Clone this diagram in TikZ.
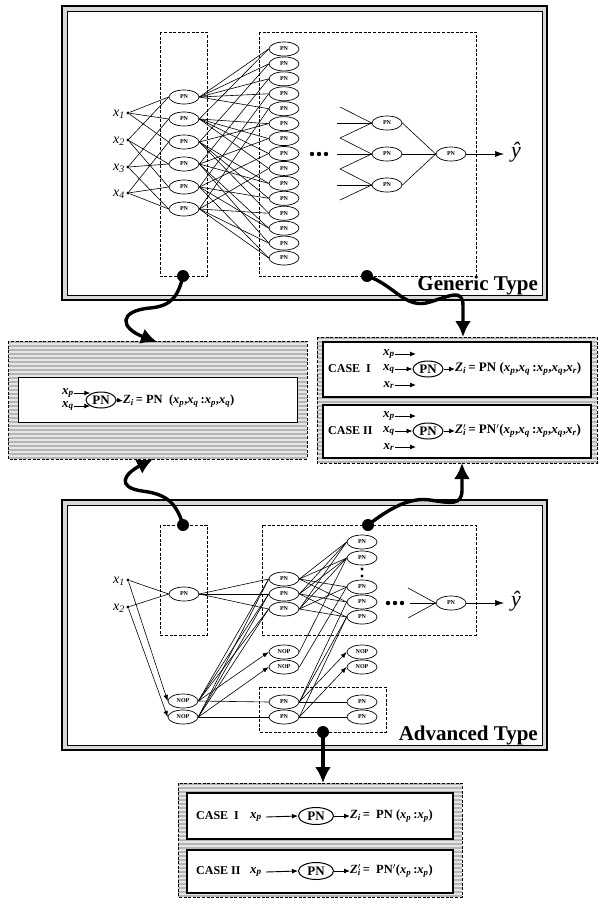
\documentclass[tikz,border=0pt]{standalone}
\usepackage{fontspec}
\setmainfont{Liberation Serif}
\usetikzlibrary{arrows.meta,shapes.geometric}

\newcommand\ix[1]{\textit{x}\textsubscript{\textit{#1}}}
\newcommand\bxs[1]{\textbf{\textit{x}}\textsubscript{\textbf{\textit{#1}}}}
\newcommand\mystripes[4]{%
  \fill[gray!20] (#1,#2) rectangle (#3,#4);
  \begin{scope}
    \clip (#1,#2) rectangle (#3,#4);
    \foreach \k in {0,...,40} \draw[gray!58, line width=1.8pt] (#1,{#2+1+4*\k}) -- (#3,{#2+1+4*\k});
  \end{scope}}

\tikzset{
  pn/.style={draw, ellipse, line width=0.7pt, minimum width=30pt, minimum height=14pt,
    inner sep=0pt, fill=white, font=\fontsize{6}{6}\selectfont\bfseries},
  pnbig/.style={draw, ellipse, line width=1pt, minimum width=30pt, minimum height=16pt,
    inner sep=0pt, fill=white, font=\fontsize{13}{13}\selectfont\bfseries},
  dot/.style={circle, fill=black, inner sep=0pt, minimum size=3.2pt},
  conn/.style={line width=0.6pt},
  sarrow/.style={line width=0.6pt, -{Latex[length=6pt,width=4.5pt]}},
  marrow/.style={line width=0.9pt, -{Latex[length=6pt,width=5pt]}},
  dbox/.style={draw, dash pattern=on 3pt off 1.6pt, line width=0.9pt},
  wave/.style={line width=3.4pt, -{Latex[length=16pt,width=16pt]}},
  bigdot/.style={circle, fill=black, inner sep=0pt, minimum size=12pt},
  xlab/.style={inner sep=0pt, font=\fontsize{14}{14}\selectfont},
  yhat/.style={inner sep=0pt, font=\fontsize{22}{22}\selectfont},
  typelabel/.style={inner sep=0pt, anchor=base east, font=\fontsize{21}{21}\selectfont\bfseries},
  form/.style={inner sep=0pt, anchor=west, font=\fontsize{12.5}{12.5}\selectfont\bfseries},
  formr/.style={inner sep=0pt, anchor=west, font=\fontsize{13}{13}\selectfont\bfseries},
  caselab/.style={inner sep=0pt, anchor=west, font=\fontsize{12}{12}\selectfont\bfseries},
  bvar/.style={inner sep=0pt, font=\fontsize{13}{13}\selectfont\bfseries},
  gdots/.style={circle, fill=black, inner sep=0pt, minimum size=4.4pt},
}

\begin{document}
\begin{tikzpicture}[x=1pt, y=-1pt]
\useasboundingbox (0,0) rectangle (602,903);
\fill[white] (0,0) rectangle (602,903);

% ===== frames =====
\draw[line width=1.2pt, fill=gray!30] (62,6) rectangle (547,300);
\draw[line width=1pt, fill=white] (67,11) rectangle (542,295);
\draw[line width=1.2pt, fill=gray!30] (62,500) rectangle (547,750);
\draw[line width=1pt, fill=white] (67,505) rectangle (542,745);

% ===== Generic type =====
\draw[dbox] (160,32) rectangle (207,276);
\draw[dbox] (259,32) rectangle (476,276);

\foreach \i/\y in {1/113,2/140,3/167,4/193} {
  \node[dot] (gx\i) at (128,\y) {};
  \node[xlab, anchor=east] (gxl\i) at (125,\y+1) {\ix{\i}};
}
\foreach \i/\y in {1/97,2/119,3/142,4/164,5/187,6/209}
  \node[pn] (ga\i) at (184,\y) {PN};
\foreach \i in {1,...,15}
  \node[pn] (gb\i) at (284,{49+(\i-1)*14.93}) {PN};

\foreach \a/\b/\n in {1/2/1,1/3/2,1/4/3,2/3/4,2/4/5,3/4/6} {
  \draw[conn] (gx\a) -- (ga\n.west);
  \draw[conn] (gx\b) -- (ga\n.west);
}
\foreach \a/\b/\n in {1/2/1,1/3/2,1/4/3,1/5/4,1/6/5,2/3/6,2/4/7,2/5/8,2/6/9,3/4/10,3/5/11,3/6/12,4/5/13,4/6/14,5/6/15} {
  \draw[conn] (ga\a.east) -- (gb\n.west);
  \draw[conn] (ga\b.east) -- (gb\n.west);
}

\node[gdots] (gd1) at (312,154) {};
\node[gdots] (gd2) at (319,154) {};
\node[gdots] (gd3) at (326,154) {};

\foreach \i/\y in {1/123,2/154,3/185}
  \node[pn] (gc\i) at (387,\y) {PN};
\node[pn] (gf) at (451,154) {PN};
\coordinate (gi1) at (340,107);
\coordinate (gi2) at (337,123);
\coordinate (gi3) at (340,138);
\coordinate (gi4) at (337,154);
\coordinate (gi5) at (340,169);
\coordinate (gi6) at (337,185);
\coordinate (gi7) at (340,200);
\foreach \p in {1,2,3} \draw[conn] (gi\p) -- (gc1.west);
\foreach \p in {3,4,5} \draw[conn] (gi\p) -- (gc2.west);
\foreach \p in {5,6,7} \draw[conn] (gi\p) -- (gc3.west);
\foreach \i in {1,2,3} \draw[conn] (gc\i.east) -- (gf.west);
\coordinate (gyend) at (504,154);
\draw[conn, -{Latex[length=9pt,width=6pt]}] (gf.east) -- (gyend);
\node[yhat] (gy) at (516,152) {\textit{\^{y}}};

\node[typelabel] (gtype) at (538,290) {Generic Type};

% ===== Advanced type =====
\draw[dbox] (160,525) rectangle (207,635);
\draw[dbox] (262,525) rectangle (476,635);
\draw[dbox] (259,687) rectangle (386,732);

\node[dot] (ax1) at (128,580) {};
\node[dot] (ax2) at (128,607) {};
\node[xlab, anchor=east] (axl1) at (125,581) {\ix{1}};
\node[xlab, anchor=east] (axl2) at (125,608) {\ix{2}};

\node[pn] (aa) at (184,594) {PN};
\node[pn] (ab1) at (284,579) {PN};
\node[pn] (ab2) at (284,594) {PN};
\node[pn] (ab3) at (284,609) {PN};
\node[pn] (anl1) at (183,701) {NOP};
\node[pn] (anl2) at (183,717) {NOP};
\node[pn] (ana1) at (284,652) {NOP};
\node[pn] (ana2) at (284,667) {NOP};
\node[pn] (apa1) at (284,702) {PN};
\node[pn] (apa2) at (284,717) {PN};
\foreach \i/\y in {1/542,2/558,3/587,4/602,5/617}
  \node[pn] (ac\i) at (362,\y) {PN};
\node[circle, fill=black, inner sep=0pt, minimum size=3.2pt] (avd1) at (362,569) {};
\node[circle, fill=black, inner sep=0pt, minimum size=3.2pt] (avd2) at (362,576) {};
\node[pn] (anb1) at (362,652) {NOP};
\node[pn] (anb2) at (362,667) {NOP};
\node[pn] (apb1) at (362,702) {PN};
\node[pn] (apb2) at (362,717) {PN};
\node[pn] (af) at (451,603) {PN};

\draw[conn] (ax1) -- (aa.west);
\draw[conn] (ax2) -- (aa.west);
\draw[sarrow] (ax1) -- (anl1.west);
\draw[sarrow] (ax2) -- (anl2.west);
\foreach \j in {1,2,3} {
  \draw[conn] (aa.east) -- (ab\j.west);
  \draw[conn] (anl1.east) -- (ab\j.west);
  \draw[conn] (anl2.east) -- (ab\j.west);
}
\draw[sarrow] (anl1.east) -- (ana1.west);
\draw[sarrow] (anl2.east) -- (ana2.west);
\draw[conn] (anl1.east) -- (apa1.west);
\draw[conn] (anl2.east) -- (apa2.west);

\foreach \j in {1,2,3,4} \draw[conn] (ab1.east) -- (ac\j.west);
\foreach \j in {1,2,4,5} \draw[conn] (ab2.east) -- (ac\j.west);
\foreach \j in {1,2,3,5} \draw[conn] (ab3.east) -- (ac\j.west);
\draw[conn] (ana1.east) -- (ac2.west);
\draw[conn] (ana2.east) -- (ac3.west);
\draw[conn] (apa1.east) -- (ac4.west);
\draw[conn] (apa1.east) -- (ac5.west);
\draw[conn] (apa2.east) -- (ac5.west);
\draw[sarrow] (apa1.east) -- (anb1.west);
\draw[sarrow] (apa2.east) -- (anb2.west);
\draw[conn] (apa1.east) -- (apb1.west);
\draw[conn] (apa2.east) -- (apb2.west);

\node[gdots] (ad1) at (388,603) {};
\node[gdots] (ad2) at (395,603) {};
\node[gdots] (ad3) at (402,603) {};
\coordinate (ai1) at (408,588);
\coordinate (ai2) at (410,603);
\coordinate (ai3) at (408,618);
\foreach \p in {1,2,3} \draw[conn] (ai\p) -- (af.west);
\coordinate (ayend) at (504,603);
\draw[conn, -{Latex[length=9pt,width=6pt]}] (af.east) -- (ayend);
\node[yhat] (ay) at (516,601) {\textit{\^{y}}};

\node[typelabel] (atype) at (538,740) {Advanced Type};

% ===== middle left box =====
\mystripes{8}{341}{307}{459}
\draw[dbox] (8,341) rectangle (307,459);
\draw[line width=1pt, fill=white] (18,377) rectangle (297,422);
\node[bvar] (mxp) at (68,393) {\bxs{p}};
\node[bvar] (mxq) at (68,406) {\bxs{q}};
\node[pnbig] (mpn) at (101,400) {PN};
\node[form] (mz) at (123,401) {\textit{Z}\textsubscript{\textit{i}}\,= PN\ \ (\bxs{p},\bxs{q}\,:\bxs{p},\bxs{q})};
\draw[marrow] (mxp.east) -- (mxp.east -| mpn.150);
\draw[marrow] (mxq.east) -- (mxq.east -| mpn.210);
\draw[marrow] (mpn.east) -- (mz.west);

% ===== middle right box =====
\mystripes{317}{337}{597}{463}
\draw[dbox] (317,337) rectangle (597,463);
\draw[line width=1.3pt, fill=white] (323,342) rectangle (591,397);
\draw[line width=1.3pt, fill=white] (323,405) rectangle (591,458);

\node[caselab] (rc1) at (328,369) {CASE\ \ I};
\node[bvar] (r1p) at (389,354) {\bxs{p}};
\node[bvar] (r1q) at (389,369) {\bxs{q}};
\node[bvar] (r1r) at (389,385) {\bxs{r}};
\node[pnbig] (r1pn) at (428,369) {PN};
\coordinate (r1pe) at (416,354);
\coordinate (r1re) at (416,385);
\draw[marrow] (r1p.east) -- (r1pe);
\draw[marrow] (r1r.east) -- (r1re);
\draw[marrow] (r1q.east) -- (r1pn.west);
\node[formr] (r1z) at (455,369) {\textit{Z}\textsubscript{\textit{i}}\,= PN (\bxs{p},\bxs{q}\,:\bxs{p},\bxs{q},\bxs{r})};
\draw[marrow] (r1pn.east) -- (r1z.west);

\node[caselab] (rc2) at (328,431) {CASE II};
\node[bvar] (r2p) at (389,416) {\bxs{p}};
\node[bvar] (r2q) at (389,431) {\bxs{q}};
\node[bvar] (r2r) at (389,447) {\bxs{r}};
\node[pnbig] (r2pn) at (428,431) {PN};
\coordinate (r2pe) at (416,416);
\coordinate (r2re) at (416,447);
\draw[marrow] (r2p.east) -- (r2pe);
\draw[marrow] (r2r.east) -- (r2re);
\draw[marrow] (r2q.east) -- (r2pn.west);
\node[formr] (r2z) at (455,431) {\textit{Z}\rlap{$'$}\textsubscript{\textit{i}}\,= PN$'$(\bxs{p},\bxs{q}\,:\bxs{p},\bxs{q},\bxs{r})};
\draw[marrow] (r2pn.east) -- (r2z.west);

% ===== bottom box =====
\mystripes{178}{783}{462}{897}
\draw[dbox] (178,783) rectangle (462,897);
\draw[line width=1.3pt, fill=white] (187,793) rectangle (453,839);
\draw[line width=1.3pt, fill=white] (187,850) rectangle (453,893);

\node[caselab] (bc1) at (196,816) {CASE\ \ I};
\node[bvar] (b1p) at (256,817) {\bxs{p}};
\node[pnbig, minimum width=35pt, minimum height=17pt] (b1pn) at (316,816) {PN};
\node[form] (b1z) at (350,816) {\textit{Z}\textsubscript{\textit{i}}\,= \ PN (\bxs{p}\,:\bxs{p})};
\draw[marrow] (b1p.east) ++(4,0) -- (b1pn.west);
\draw[marrow] (b1pn.east) -- (b1z.west);

\node[caselab] (bc2) at (196,871) {CASE II};
\node[bvar] (b2p) at (256,872) {\bxs{p}};
\node[pnbig, minimum width=35pt, minimum height=17pt] (b2pn) at (316,871) {PN};
\node[form] (b2z) at (350,871) {\textit{Z}\rlap{$'$}\textsubscript{\textit{i}}\,= \ PN$'$(\bxs{p}\,:\bxs{p})};
\draw[marrow] (b2p.east) ++(4,0) -- (b2pn.west);
\draw[marrow] (b2pn.east) -- (b2z.west);

% ===== wavy connectors =====
\node[bigdot] (w1s) at (183,276) {};
\node[bigdot] (w2s) at (367,276) {};
\node[bigdot] (w3s) at (183,525) {};
\node[bigdot] (w4s) at (368,525) {};
\node[bigdot] (w5s) at (323,732) {};
\coordinate (w1e) at (157,342);
\coordinate (w2e) at (463,337);
\coordinate (w3e) at (153,459);
\coordinate (w4e) at (462,463);
\coordinate (w5e) at (323,783);

\draw[wave] (w1s.center) .. controls (178,296) and (172,306) .. (150,308)
  .. controls (118,311) and (120,328) .. (w1e);
\draw[wave] (w2s.center) .. controls (395,285) and (405,310) .. (430,302)
  .. controls (450,296) and (463,288) .. (463,306) -- (w2e);
\draw[wave] (w3s.center) .. controls (176,502) and (166,494) .. (142,491)
  .. controls (116,487) and (124,474) .. (w3e);
\draw[wave] (w4s.center) .. controls (390,508) and (410,497) .. (430,500)
  .. controls (450,503) and (462,506) .. (462,490) -- (w4e);
\draw[wave] (w5s.center) -- (w5e);

\end{tikzpicture}
\end{document}
